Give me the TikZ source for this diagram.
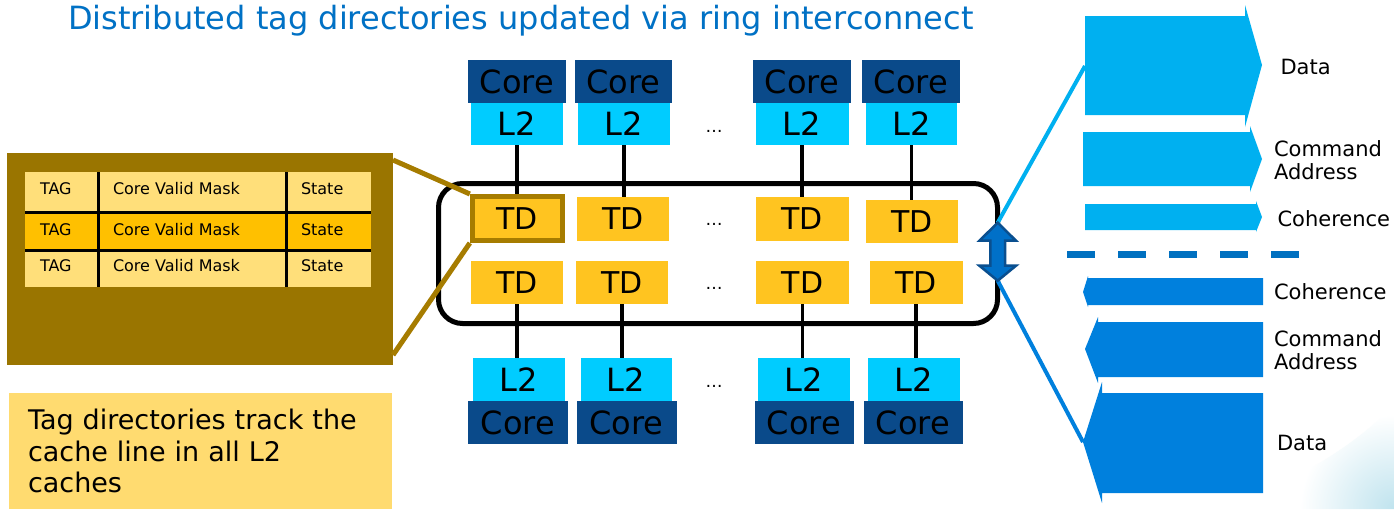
\documentclass[tikz,border=0pt]{standalone}
\usepackage{fontspec}
\setmainfont{DejaVu Sans}
\usetikzlibrary{calc}
\definecolor{coreblue}{HTML}{0A4A8A}
\definecolor{l2cyan}{HTML}{00CCFF}
\definecolor{tdyellow}{HTML}{FFC420}
\definecolor{panelbrown}{HTML}{9A7500}
\definecolor{hlbrown}{HTML}{A67C00}
\definecolor{rowlight}{HTML}{FFDF7A}
\definecolor{rowdark}{HTML}{FFC000}
\definecolor{notefill}{HTML}{FFDB70}
\definecolor{titleblue}{HTML}{0071C5}
\definecolor{upcyan}{HTML}{00B0F0}
\definecolor{downblue}{HTML}{0080DD}
\definecolor{dashblue}{HTML}{0070C0}
\definecolor{dblfill}{HTML}{0070C8}
\definecolor{dbledge}{HTML}{0A4F8F}
\definecolor{swoosh}{HTML}{BFE3EE}
\tikzset{
  blk/.style={inner sep=0pt, outer sep=0pt},
  bigtext/.style={font=\fontsize{32}{36}\selectfont},
  corebox/.style={blk, bigtext, fill=coreblue, minimum height=43pt},
  l2box/.style={blk, bigtext, fill=l2cyan, minimum height=42pt},
  tdbox/.style={blk, font=\fontsize{30}{36}\selectfont, fill=tdyellow, minimum height=43pt},
  wire/.style={line width=3.5pt, black},
  dots/.style={blk, font=\fontsize{17}{20}\selectfont},
  cell/.style={blk, anchor=base west, font=\fontsize{16}{18}\selectfont},
  tline/.style={line width=3pt, black},
  side/.style={blk, anchor=base west, font=\fontsize{21}{23.5}\selectfont},
  sidetwo/.style={blk, anchor=north west, align=left, font=\fontsize{21}{23.5}\selectfont},
}
\begin{document}
\begin{tikzpicture}[x=1pt, y=-1pt]
\useasboundingbox (0,0) rectangle (1394,509);
\fill[white] (0,0) rectangle (1394,509);

% faint corner decoration
\begin{scope}
  \clip (1215,509) .. controls (1290,485) and (1350,450) .. (1394,405) -- (1394,509) -- cycle;
  \shade[inner color=swoosh, outer color=white] (1300,415) rectangle (1488,603);
\end{scope}

% title
\node[blk, anchor=base west, text=titleblue, font=\fontsize{32}{36}\selectfont] (title) at (68,29.5)
  {Distributed tag directories updated via ring interconnect};

% ring interconnect
\node[draw, line width=5pt, rounded corners=24pt, minimum width=559pt, minimum height=140pt, inner sep=0pt] (ring) at (718,253.5) {};

% upper cores and L2 caches
\node[corebox, minimum width=98pt] (ct1) at (517,81.5) {Core};
\node[corebox, minimum width=97pt] (ct2) at (623.5,81.5) {Core};
\node[corebox, minimum width=98pt] (ct3) at (802,81.5) {Core};
\node[corebox, minimum width=98pt] (ct4) at (911,81.5) {Core};
\node[l2box, minimum width=92pt] (lt1) at (517,124) {L2};
\node[l2box, minimum width=92pt] (lt2) at (624,124) {L2};
\node[l2box, minimum width=93pt] (lt3) at (802,124) {L2};
\node[l2box, minimum width=91pt] (lt4) at (911.5,124) {L2};

% tag directories
\node[tdbox, minimum width=92pt, minimum height=44pt] (tt1) at (517,219) {TD};
\node[tdbox, minimum width=92pt, minimum height=44pt] (tt2) at (623,219) {TD};
\node[tdbox, minimum width=93pt, minimum height=44pt] (tt3) at (802,219) {TD};
\node[tdbox, minimum width=92pt, minimum height=43pt] (tt4) at (912,221.5) {TD};
\node[tdbox, minimum width=92pt] (tb1) at (517,282.5) {TD};
\node[tdbox, minimum width=92pt] (tb2) at (622,282.5) {TD};
\node[tdbox, minimum width=93pt] (tb3) at (802.5,282.5) {TD};
\node[tdbox, minimum width=93pt] (tb4) at (916,282.5) {TD};

% lower L2 caches and cores
\node[l2box, minimum width=92pt, minimum height=43pt] (lb1) at (518.5,379.5) {L2};
\node[l2box, minimum width=91pt, minimum height=43pt] (lb2) at (626,379.5) {L2};
\node[l2box, minimum width=92pt, minimum height=43pt] (lb3) at (804,379.5) {L2};
\node[l2box, minimum width=92pt, minimum height=43pt] (lb4) at (914,379.5) {L2};
\node[corebox, minimum width=100pt] (cb1) at (518,422.5) {Core};
\node[corebox, minimum width=100pt] (cb2) at (626.5,422.5) {Core};
\node[corebox, minimum width=99pt] (cb3) at (804,422.5) {Core};
\node[corebox, minimum width=99pt] (cb4) at (913,422.5) {Core};

% ellipses between columns
\node[dots] (d1) at (714,131) {…};
\node[dots] (d2) at (714,224) {…};
\node[dots] (d3) at (714,288) {…};
\node[dots] (d4) at (714,386) {…};

% links between caches and tag directories
\foreach \i in {1,...,4} {
  \draw[wire] (lt\i.south) -- (lt\i.south |- tt\i.north);
  \draw[wire] (tb\i.south) -- (tb\i.south |- lb\i.north);
}

% highlighted tag directory
\node[draw=hlbrown, line width=5pt, minimum width=90.5pt, minimum height=44pt, inner sep=0pt] (hl) at (517.6,218.5) {};

% magnified tag directory panel
\node[blk, fill=panelbrown, minimum width=386pt, minimum height=212pt, anchor=north west] (panel) at (7,153) {};
\draw[hlbrown, line width=5pt] ($(panel.north east)+(0,7)$) -- (hl.north west);
\draw[hlbrown, line width=5pt] ($(panel.south east)+(0,-10)$) -- (hl.south west);

\node[blk, fill=rowlight, minimum width=346pt, minimum height=40.5pt, anchor=north west] (row1) at (25,172) {};
\node[blk, fill=rowdark, minimum width=346pt, minimum height=37.5pt, anchor=north west] (row2) at (25,212.5) {};
\node[blk, fill=rowlight, minimum width=346pt, minimum height=37pt, anchor=north west] (row3) at (25,250) {};
\draw[tline] (row1.south west) -- (row1.south east);
\draw[tline] (row2.south west) -- (row2.south east);
\draw[tline] ($(row1.north west)+(73.3,0)$) -- ($(row3.south west)+(73.3,0)$);
\draw[tline] ($(row1.north west)+(261.7,0)$) -- ($(row3.south west)+(261.7,0)$);

\node[cell] (a1) at (40,194.3) {TAG};
\node[cell] (b1) at (113,194.3) {Core Valid Mask};
\node[cell] (c1) at (301,194.3) {State};
\node[cell] (a2) at (40,235) {TAG};
\node[cell] (b2) at (113,235) {Core Valid Mask};
\node[cell] (c2) at (301,235) {State};
\node[cell] (a3) at (40,271.7) {TAG};
\node[cell] (b3) at (113,271.7) {Core Valid Mask};
\node[cell] (c3) at (301,271.7) {State};

% note box
\node[blk, fill=notefill, anchor=north west, minimum width=383pt, minimum height=116pt,
      text width=345pt, inner xsep=19pt, align=left, font=\fontsize{27}{31.5}\selectfont] (note) at (9,393)
  {Tag directories track the\\cache line in all L2\\caches};

% outgoing (upper) and incoming (lower) channels
\fill[upcyan] (1085,16) -- (1245,16) -- (1245,5) -- (1262,65) -- (1245,127) -- (1245,115) -- (1085,115) -- cycle;
\fill[upcyan] (1083,132) -- (1250,132) -- (1250,126) -- (1262,159) -- (1250,192) -- (1250,186) -- (1083,186) -- cycle;
\fill[upcyan] (1085,204) -- (1256,204) -- (1256,201) -- (1262,217) -- (1256,232) -- (1256,230) -- (1085,230) -- cycle;
\fill[downblue] (1263,278) -- (1088,278) -- (1088,276) -- (1083,292) -- (1088,307) -- (1088,305) -- (1263,305) -- cycle;
\fill[downblue] (1263,322) -- (1098,322) -- (1098,317) -- (1085,349) -- (1098,383) -- (1098,377) -- (1263,377) -- cycle;
\fill[downblue] (1263,393) -- (1102,393) -- (1102,382) -- (1083,442) -- (1102,503) -- (1102,493) -- (1263,493) -- cycle;
\coordinate (dataout) at (1085,66);
\coordinate (datain) at (1083,442);

\node[side] (lbl1) at (1280.5,74) {Data};
\node[sidetwo] (lbl2) at (1274,140.5) {Command\\Address};
\node[side] (lbl3) at (1277.5,226.5) {Coherence};
\node[side] (lbl4) at (1274,299) {Coherence};
\node[sidetwo] (lbl5) at (1274,330.5) {Command\\Address};
\node[side] (lbl6) at (1277,450) {Data};

% split between directions
\draw[dashblue, line width=7.5pt, dash pattern=on 28pt off 23pt] (1067,254.5) -- (1301,254.5);

% ring attachment point
\coordinate (dbltop) at (997.7,222.7);
\coordinate (dblbot) at (997.7,280.7);
\draw[upcyan, line width=4pt] (dbltop) -- (dataout);
\draw[downblue, line width=4pt] (dblbot) -- (datain);
\filldraw[fill=dblfill, draw=dbledge, line width=2.5pt, line join=miter]
  (dbltop) -- (1016,240.7) -- (1005,240.7) -- (1005,265.7) -- (1016,265.7) -- (dblbot)
  -- (979.4,265.7) -- (990.4,265.7) -- (990.4,240.7) -- (979.4,240.7) -- cycle;
\end{tikzpicture}
\end{document}
